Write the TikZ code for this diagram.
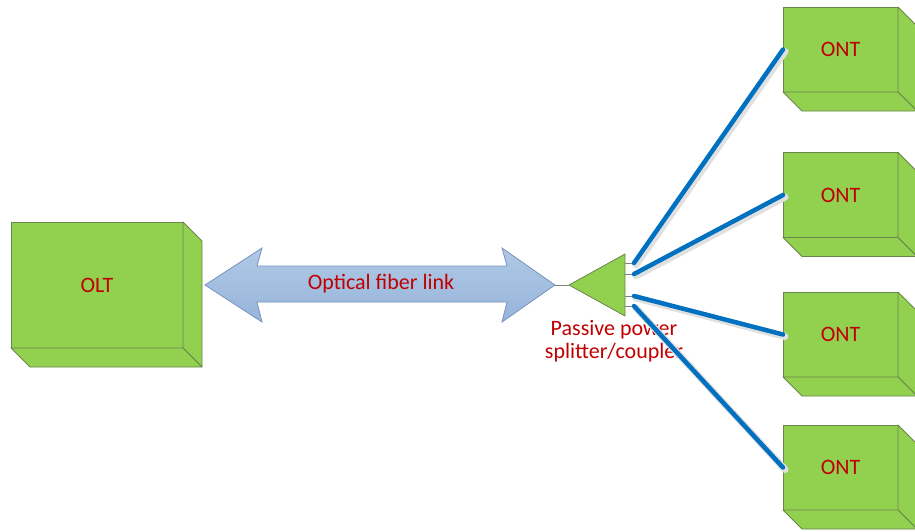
\documentclass[tikz,border=0pt]{standalone}
\usepackage{fontspec}
\setmainfont{Carlito}
\usetikzlibrary{positioning,calc}
\definecolor{boxgreen}{RGB}{146,208,80}
\definecolor{boxedge}{RGB}{105,135,75}
\definecolor{labelred}{RGB}{192,0,0}
\definecolor{fiberblue}{RGB}{0,112,192}
\definecolor{linktop}{RGB}{176,200,229}
\definecolor{linkbot}{RGB}{150,181,218}
\definecolor{linkedge}{RGB}{120,148,188}

\begin{document}
\begin{tikzpicture}[x=1pt, y=-1pt,
  box/.style={rectangle, draw=boxedge, fill=boxgreen, outer sep=0pt, line width=0.8pt,
              font=\fontsize{22}{24}\selectfont, text=labelred},
  face/.style={draw=boxedge, fill=boxgreen, line width=0.8pt, line join=round},
  link/.style={draw=linkedge, top color=linktop, bottom color=linkbot, line width=0.8pt},
  splitter/.style={draw=boxedge, fill=boxgreen, line width=0.8pt, line join=round},
  stub/.style={draw=gray, line width=0.8pt},
  fiber/.style={line width=4.5pt, color=fiberblue, line cap=round},
  glow/.style={line width=7pt, color=black!12, line cap=round},
  note/.style={font=\fontsize{22}{23}\selectfont, text=labelred, align=center, inner sep=0pt}
]
\useasboundingbox (0,0) rectangle (915,531);

% boxes
\node[box, minimum width=172, minimum height=126] (olt) at (97,285) {OLT};
\node[box, minimum width=115, minimum height=85] (ont1) at (840.5,49.5) {ONT};
\node[box, minimum width=115, minimum height=85] (ont2) at (840.5,195) {ONT};
\node[box, minimum width=115, minimum height=85] (ont3) at (840.5,334.5) {ONT};
\node[box, minimum width=115, minimum height=85] (ont4) at (840.5,467.5) {ONT};

% depth faces
\foreach \b in {olt,ont1,ont2,ont3,ont4} {
  \draw[face] (\b.north east) -- ($(\b.north east)+(19,19)$) -- ($(\b.south east)+(19,19)$) -- (\b.south east) -- cycle;
  \draw[face] (\b.south west) -- (\b.south east) -- ($(\b.south east)+(19,19)$) -- ($(\b.south west)+(19,19)$) -- cycle;
}

% fiber link arrow
\coordinate (lt) at ($(olt.east)+(22,0)$);
\coordinate (rt) at (555,285);
\draw[link] (lt) -- +(57,-37) -- +(52,-19) -- ($(rt)+(-48,-19)$) -- ($(rt)+(-53,-37)$) -- (rt)
  -- ($(rt)+(-53,37)$) -- ($(rt)+(-48,17)$) -- ($(lt)+(52,17)$) -- ($(lt)+(57,37)$) -- cycle;
\node[note] (linktext) at ($(lt)!0.5!(rt)+(1,-1)$) {Optical fiber link};

% splitter
\coordinate (sp) at (569,285);
\draw[stub] (rt) -- (sp);
\draw[splitter] (sp) -- (625,254) -- (625,316) -- cycle;
\foreach \y [count=\i] in {263,274,296,306} {
  \coordinate (p\i) at (634,\y);
  \draw[stub] (625,\y) -- (p\i);
}
\node[note] (splabel) at (614,341) {Passive power\\splitter/coupler};

% fibers to the ONTs
\foreach \i in {1,...,4}
  \draw[glow] ($(p\i)+(2,2)$) -- ($(ont\i.west)+(2,2)$);
\foreach \i in {1,...,4}
  \draw[fiber] (p\i) -- (ont\i.west);
\end{tikzpicture}
\end{document}
